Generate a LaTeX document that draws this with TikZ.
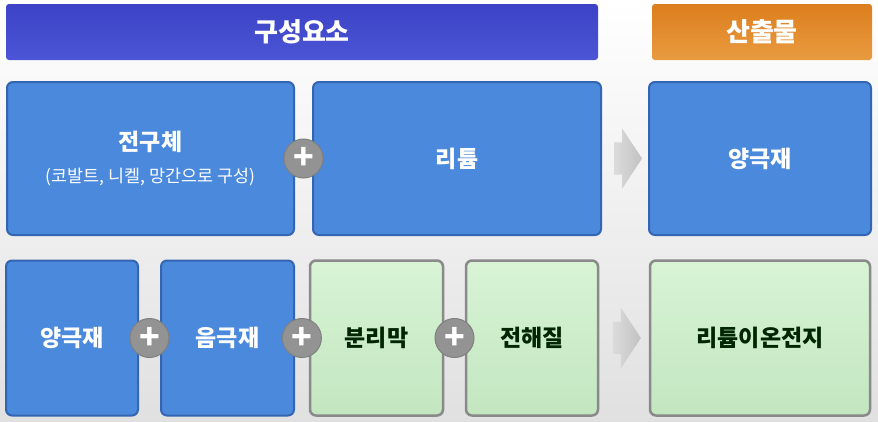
\documentclass[tikz,border=0pt]{standalone}
\usepackage{fontspec}
\setmainfont{Noto Sans CJK KR}
\usetikzlibrary{calc, shapes.arrows}
\tikzset{x=1pt,y=-1pt}
\definecolor{hdrblue}{HTML}{3C43C6}
\definecolor{hdrblueb}{HTML}{4C55D6}
\definecolor{hdrorange}{HTML}{DC7E1E}
\definecolor{hdrorangeb}{HTML}{E99B40}
\definecolor{boxblue}{HTML}{4A89DC}
\definecolor{edgeblue}{HTML}{3465B2}
\definecolor{boxgreen}{HTML}{D8F4D5}
\definecolor{boxgreenb}{HTML}{C3E6C0}
\definecolor{edgegray}{HTML}{8A8A8A}
\def\lbl{\fontsize{23}{27}\selectfont\bfseries}

\begin{document}
\begin{tikzpicture}[
    header/.style={rounded corners=3pt, inner sep=0pt, text=white,
      font=\fontsize{26}{30}\selectfont\bfseries},
    bluebox/.style={draw=edgeblue, line width=2pt, fill=boxblue,
      rounded corners=6pt, text=white, align=center, font=\lbl},
    greenbox/.style={draw=edgegray, line width=2.5pt, top color=boxgreen,
      bottom color=boxgreenb, rounded corners=6pt, text=black!85!green,
      align=center, font=\lbl},
    plus/.style={circle, fill=gray!85!white, draw=gray, line width=1pt,
      minimum size=39pt, inner sep=0pt, text=white,
      font=\fontsize{34}{34}\selectfont\bfseries},
    flow/.style={single arrow, single arrow head extend=14pt,
      single arrow tip angle=113, minimum height=28pt,
      inner xsep=0pt, inner ysep=16pt, left color=black!14, right color=black!24}]
  % background
  \shade[top color=white, bottom color=black!12] (0,0) rectangle (878,421);
  \useasboundingbox (0,0) rectangle (878,421);

  % headers
  \node[header, top color=hdrblue, bottom color=hdrblueb,
    minimum width=592pt, minimum height=56pt] (parts) at (302,32) {구성요소};
  \node[header, top color=hdrorange, bottom color=hdrorangeb,
    minimum width=220pt, minimum height=56pt] (output) at (762,32) {산출물};

  % first row
  \node[bluebox, minimum width=287pt, minimum height=153pt] (prec) at (150.5,158.5)
    {전구체\\[5pt]{\fontsize{17.4}{20}\selectfont\mdseries (코발트, 니켈, 망간으로 구성)}};
  \node[bluebox, minimum width=288pt, minimum height=153pt] (lith) at (457,158.5) {리튬};
  \node[bluebox, minimum width=222pt, minimum height=153pt] (cath) at (760,158.5) {양극재};

  % second row
  \node[bluebox, minimum width=132pt, minimum height=155pt] (cat2) at (72,338) {양극재};
  \node[bluebox, minimum width=133pt, minimum height=155pt] (anod) at (227.5,338) {음극재};
  \node[greenbox, minimum width=133pt, minimum height=155pt] (sepa) at (376.5,338) {분리막};
  \node[greenbox, minimum width=132pt, minimum height=155pt] (elec) at (532,338) {전해질};
  \node[greenbox, minimum width=220pt, minimum height=155pt] (cell) at (760,338) {리튬이온전지};

  % plus signs
  \node[plus] (p1) at ($(prec.east)!.5!(lith.west)$) {+};
  \node[plus] (p2) at ($(cat2.east)!.5!(anod.west)$) {+};
  \node[plus] (p3) at ($(anod.east)!.5!(sepa.west)$) {+};
  \node[plus] (p4) at ($(sepa.east)!.5!(elec.west)$) {+};

  % result arrows
  \node[flow] (a1) at ($(lith.east)!.45!(cath.west)$) {};
  \node[flow] (a2) at ($(elec.east)!.45!(cell.west)$) {};
\end{tikzpicture}
\end{document}
